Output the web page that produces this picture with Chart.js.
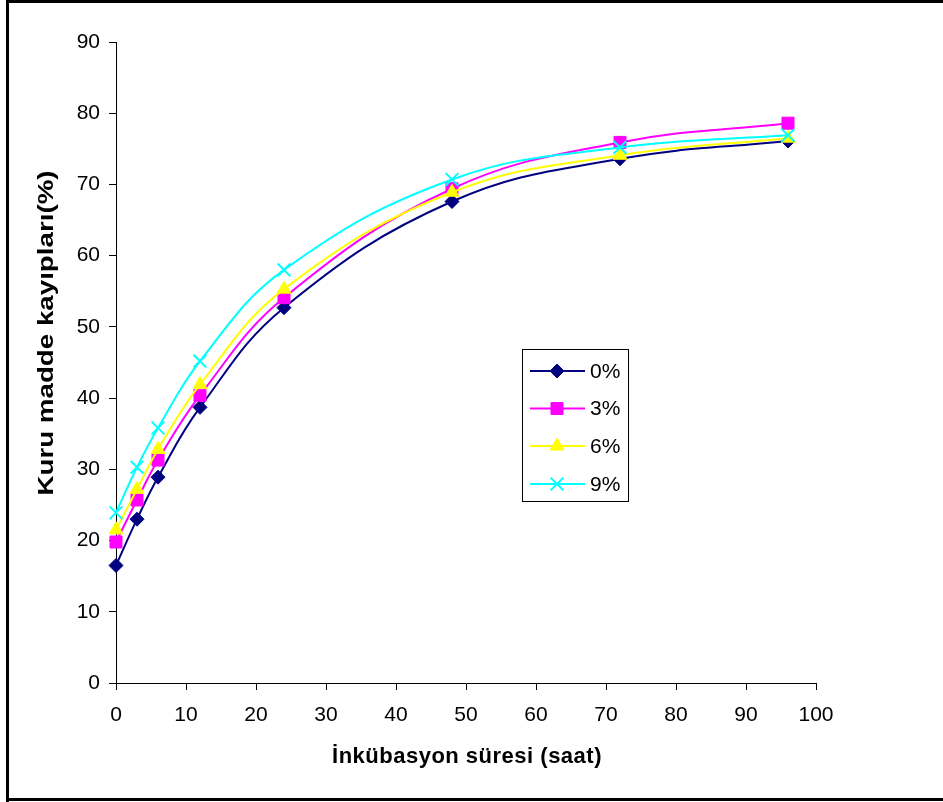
<!DOCTYPE html>
<html>
<head>
<meta charset="utf-8">
<script src="https://cdn.jsdelivr.net/npm/chart.js@4/dist/chart.umd.min.js"></script>
<style>
  html, body { margin: 0; padding: 0; background: #fff; }
  #wrap { width: 943px; height: 802px; position: relative; }
  canvas { display: block; }
</style>
</head>
<body>
<div id="wrap"><canvas id="c" width="943" height="802"></canvas></div>
<script>
// ---- data ----
const hours = [0, 3, 6, 12, 24, 48, 72, 96];
const seriesNames = ['0%', '3%', '6%', '9%'];
const s0 = [16.5, 23.0, 28.9, 38.7, 52.7, 67.6, 73.6, 76.1];
const s3 = [19.8, 25.7, 31.3, 40.4, 54.1, 69.4, 75.9, 78.6];
const s6 = [21.5, 27.2, 32.8, 41.9, 55.3, 68.9, 74.1, 76.5];
const s9 = [23.9, 30.3, 35.8, 45.2, 58.0, 70.7, 75.2, 76.9];
const xTitle = 'İnkübasyon süresi (saat)';
const yTitle = 'Kuru madde kayıpları(%)';

const FONT = '"Liberation Sans", Arial, Helvetica, sans-serif';

const styles = [
  { color: '#000080', pointStyle: 'rectRot', radius: 7 },
  { color: '#FF00FF', pointStyle: 'rect', radius: 8.5 },
  { color: '#FFFF00', pointStyle: 'triangle', radius: 8 },
  { color: '#00FFFF', pointStyle: 'crossRot', radius: 9 }
];
const allSeries = [s0, s3, s6, s9];

const datasets = allSeries.map((vals, i) => ({
  label: seriesNames[i],
  data: hours.map((h, j) => ({ x: h, y: vals[j] })),
  borderColor: styles[i].color,
  backgroundColor: styles[i].color,
  pointBackgroundColor: styles[i].color,
  pointBorderColor: styles[i].color,
  pointStyle: styles[i].pointStyle,
  pointRadius: styles[i].radius,
  pointHoverRadius: styles[i].radius,
  pointBorderWidth: styles[i].pointStyle === 'crossRot' ? 2 : 1,
  borderWidth: 2,
  tension: 0.4,
  fill: false,
  clip: false,
  order: 3 - i
}));

function drawMarker(ctx, st, x, y) {
  ctx.save();
  ctx.fillStyle = st.color;
  ctx.strokeStyle = st.color;
  ctx.lineWidth = st.pointStyle === 'crossRot' ? 2 : 1;
  if (Chart.helpers && Chart.helpers.drawPoint) {
    Chart.helpers.drawPoint(ctx, { pointStyle: st.pointStyle, radius: st.radius, rotation: 0, borderWidth: ctx.lineWidth }, x, y);
  }
  ctx.restore();
}

const extras = {
  id: 'extras',
  afterDraw(chart) {
    const ctx = chart.ctx;
    const area = chart.chartArea;
    // y title (real text), stretched along its length like the reference
    ctx.save();
    ctx.fillStyle = '#000';
    ctx.font = 'bold 22px ' + FONT;
    ctx.textAlign = 'center';
    ctx.textBaseline = 'middle';
    ctx.translate(47, 333);
    ctx.rotate(-Math.PI / 2);
    ctx.scale(1.26, 1);
    ctx.fillText(yTitle, 0, 0);
    ctx.restore();

    // x title (real text)
    ctx.save();
    ctx.fillStyle = '#000';
    ctx.font = 'bold 22px ' + FONT;
    ctx.textAlign = 'center';
    ctx.textBaseline = 'middle';
    if ('letterSpacing' in ctx) ctx.letterSpacing = '0.5px';
    ctx.fillText(xTitle, (area.left + area.right) / 2 + 1, 757);
    ctx.restore();

    // legend
    ctx.save();
    const lx = 522.5, ly = 349.5, lw = 106, lh = 152;
    ctx.fillStyle = '#fff';
    ctx.fillRect(lx, ly, lw, lh);
    ctx.strokeStyle = '#000';
    ctx.lineWidth = 1;
    ctx.strokeRect(lx, ly, lw, lh);
    const rowY = [371, 408.5, 446, 484];
    ctx.font = '21px ' + FONT;
    ctx.textAlign = 'left';
    ctx.textBaseline = 'middle';
    styles.forEach((st, i) => {
      const y = rowY[i];
      ctx.strokeStyle = st.color;
      ctx.lineWidth = 2;
      ctx.beginPath();
      ctx.moveTo(530, y);
      ctx.lineTo(585, y);
      ctx.stroke();
      drawMarker(ctx, st, 557, y);
      ctx.fillStyle = '#000';
      ctx.fillText(seriesNames[i], 590, y + 1);
    });
    ctx.restore();

    // outer frame
    ctx.save();
    ctx.fillStyle = '#000';
    ctx.fillRect(6, 0, 3, 802);
    ctx.fillRect(6, 0, 937, 3);
    ctx.fillRect(6, 798, 937, 3);
    ctx.restore();
  }
};

new Chart(document.getElementById('c'), {
  type: 'line',
  data: { datasets },
  plugins: [extras],
  options: {
    responsive: false,
    animation: false,
    devicePixelRatio: 1,
    layout: { padding: { left: 0, top: 42, right: 127, bottom: 0 } },
    plugins: {
      legend: { display: false },
      tooltip: { enabled: false },
      title: { display: false }
    },
    scales: {
      x: {
        type: 'linear',
        min: 0, max: 100,
        ticks: { stepSize: 10, color: '#000', padding: 13, font: { family: FONT, size: 21 }, maxRotation: 0 },
        grid: { display: true, drawOnChartArea: false, drawTicks: true, tickLength: 7, color: '#000' },
        border: { display: true, color: '#000', width: 1 },
        title: { display: false },
        afterFit(scale) { scale.height = 119; }
      },
      y: {
        type: 'linear',
        min: 0, max: 90,
        ticks: { stepSize: 10, color: '#000', padding: 9, font: { family: FONT, size: 21 } },
        grid: { display: true, drawOnChartArea: false, drawTicks: true, tickLength: 7, color: '#000' },
        border: { display: true, color: '#000', width: 1 },
        title: { display: false },
        afterFit(scale) { scale.width = 116; }
      }
    }
  }
});
</script>
</body>
</html>
